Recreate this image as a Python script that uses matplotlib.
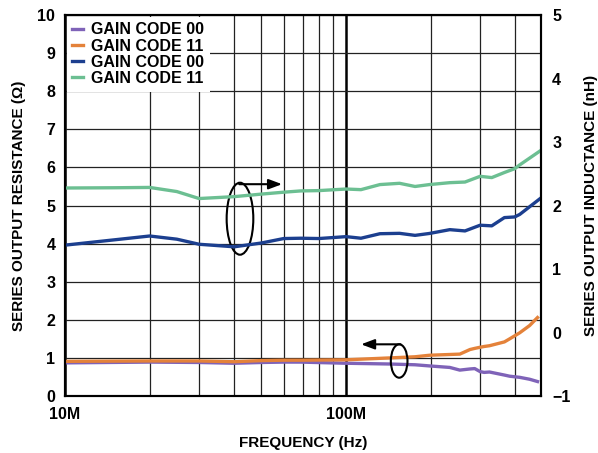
import matplotlib.pyplot as plt
from matplotlib.patches import Ellipse
from matplotlib.ticker import FixedLocator, NullFormatter
import numpy as np

plt.rcParams["font.family"] = ["Liberation Sans", "DejaVu Sans"]
plt.rcParams["font.weight"] = "bold"

# resistance (left axis, ohm)
res_freq = [10e6, 20e6, 30e6, 40e6, 50e6, 60e6, 69e6, 100e6, 143e6, 176e6, 198e6,
            234e6, 254e6, 276e6, 287e6, 300e6, 310e6, 324e6, 366e6, 382e6, 415e6,
            450e6, 480e6]
res_code00 = [0.87, 0.89, 0.88, 0.86, 0.88, 0.89, 0.89, 0.86, 0.84, 0.82, 0.79,
              0.75, 0.68, 0.71, 0.72, 0.64, 0.62, 0.63, 0.55, 0.52, 0.49,
              0.44, 0.38]
res_code11 = [0.91, 0.92, 0.92, 0.90, 0.93, 0.94, 0.94, 0.95, 1.00, 1.03, 1.07,
              1.09, 1.10, 1.22, 1.25, 1.28, 1.30, 1.32, 1.42, 1.50, 1.66,
              1.85, 2.06]

# inductance (right axis, nH)
ind_freq = [10e6, 15e6, 20e6, 25e6, 30e6, 40e6, 50e6, 60e6, 69e6, 80e6, 100e6,
            113e6, 132e6, 155e6, 176e6, 198e6, 234e6, 265e6, 300e6, 330e6, 366e6,
            398e6, 415e6, 494e6]
ind_code00 = [1.376, 1.46, 1.52, 1.47, 1.39, 1.35, 1.41, 1.48, 1.485, 1.48, 1.51,
              1.485, 1.556, 1.562, 1.53, 1.56, 1.62, 1.60, 1.69, 1.68, 1.81,
              1.82, 1.86, 2.12]
ind_code11 = [2.276, 2.28, 2.285, 2.22, 2.11, 2.14, 2.18, 2.21, 2.23, 2.235, 2.26,
              2.25, 2.33, 2.35, 2.30, 2.33, 2.36, 2.37, 2.46, 2.44, 2.52,
              2.58, 2.64, 2.87]

c_purple = "#7f63b8"
c_orange = "#e4823a"
c_navy = "#1c3f8f"
c_green = "#6cbf92"

fig = plt.figure(figsize=(5.98, 4.53), dpi=100)
ax = fig.add_axes([0.1087, 0.1258, 0.796, 0.841])
ax2 = ax.twinx()

l1, = ax.plot(res_freq, res_code00, color=c_purple, lw=2.4)
l2, = ax.plot(res_freq, res_code11, color=c_orange, lw=2.4)
l3, = ax2.plot(ind_freq, ind_code00, color=c_navy, lw=2.4)
l4, = ax2.plot(ind_freq, ind_code11, color=c_green, lw=2.4)

ax.set_xscale("log")
ax.set_xlim(10e6, 494e6)
ax.set_ylim(0, 10)
ax2.set_ylim(-1, 5)
ax.set_yticks(range(0, 11))
ax2.set_yticks(range(-1, 6))
ax2.set_yticklabels(["\u22121", "0", "1", "2", "3", "4", "5"])

ax.xaxis.set_major_locator(FixedLocator([1e7, 1e8]))
ax.xaxis.set_minor_locator(FixedLocator([2e7, 3e7, 4e7, 5e7, 6e7, 7e7, 8e7, 9e7,
                                         2e8, 3e8, 4e8]))
ax.xaxis.set_minor_formatter(NullFormatter())
ax.set_xticklabels(["10M", "100M"])

ax.grid(True, which="major", axis="x", color="black", lw=1.8)
ax.grid(True, which="minor", axis="x", color="#222222", lw=0.9)
ax.grid(True, which="major", axis="y", color="#222222", lw=0.9)

for a in (ax, ax2):
    a.tick_params(which="both", length=0, labelsize=11.5)
    for s in a.spines.values():
        s.set_linewidth(1.5)
ax.tick_params(axis="y", pad=7)
ax.tick_params(axis="x", pad=8)
ax2.tick_params(axis="y", pad=8)
for t in ax.get_xticklabels() + ax.get_yticklabels() + ax2.get_yticklabels():
    t.set_fontweight("bold")

ax.set_xlabel("FREQUENCY (Hz)", fontsize=11, fontweight="bold", labelpad=10)
ax.set_ylabel("SERIES OUTPUT RESISTANCE (\u03a9)", fontsize=11, fontweight="bold", labelpad=8)
ax2.set_ylabel("SERIES OUTPUT INDUCTANCE (nH)", fontsize=11, fontweight="bold", labelpad=10)

leg = ax2.legend([l1, l2, l3, l4],
                 ["GAIN CODE 00", "GAIN CODE 11", "GAIN CODE 00", "GAIN CODE 11"],
                 loc="upper left", borderaxespad=0.1, borderpad=0.35,
                 handlelength=0.7, handletextpad=0.5, labelspacing=0.08,
                 fancybox=False, framealpha=1, edgecolor="none", facecolor="white",
                 prop={"size": 11.5, "weight": "bold"})

# annotation ellipses with arrows
tr = ax2.transAxes
ax2.add_patch(Ellipse((0.3676, 0.4654), 0.056, 0.189, transform=tr,
                      fill=False, ec="black", lw=1.5))
ax2.annotate("", xy=(0.456, 0.556), xytext=(0.366, 0.556), xycoords=tr,
             arrowprops=dict(arrowstyle="-|>,head_length=0.8,head_width=0.3",
                             color="black", lw=1.5, shrinkA=0, shrinkB=0))
ax2.add_patch(Ellipse((0.702, 0.0919), 0.035, 0.0877, transform=tr,
                      fill=False, ec="black", lw=1.5))
ax2.annotate("", xy=(0.622, 0.1357), xytext=(0.705, 0.1357), xycoords=tr,
             arrowprops=dict(arrowstyle="-|>,head_length=0.8,head_width=0.3",
                             color="black", lw=1.5, shrinkA=0, shrinkB=0))

fig.savefig("out.png", dpi=100)
